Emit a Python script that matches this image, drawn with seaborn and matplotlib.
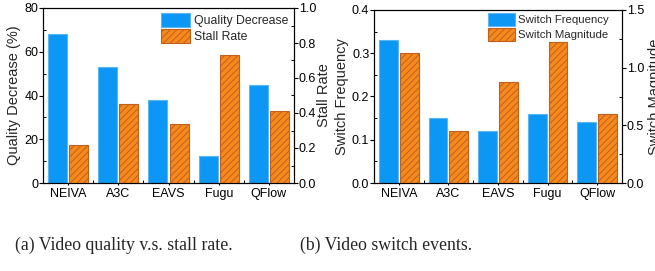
import matplotlib
matplotlib.use("Agg")
import matplotlib.pyplot as plt
from matplotlib.patches import Patch
from matplotlib.ticker import MultipleLocator, FixedLocator
import seaborn as sns
import pandas as pd

methods = ["NEIVA", "A3C", "EAVS", "Fugu", "QFlow"]
quality_decrease = [68, 53, 38, 12.3, 45]
stall_rate = [0.215, 0.45, 0.34, 0.73, 0.413]
switch_frequency = [0.33, 0.15, 0.12, 0.16, 0.14]
switch_magnitude = [1.13, 0.45, 0.872, 1.22, 0.6]

BLUE = "#0c97f4"
BLUE_EDGE = "#5ab6f5"
ORANGE = "#f5891c"
ORANGE_EDGE = "#c0601e"

sns.set_theme(style="ticks")
plt.rcParams["font.family"] = ["Liberation Sans", "DejaVu Sans"]
plt.rcParams["hatch.linewidth"] = 0.7
plt.rcParams["axes.linewidth"] = 0.8

fig = plt.figure(figsize=(6.55, 2.71), dpi=100)
axA = fig.add_axes([43/655, 1-183/271, 251/655, 175/271])
axB = fig.add_axes([374/655, 1-183/271, 248/655, 173/271])


def panel(ax, left_vals, right_vals, left_name, right_name, ylim_l, ylim_r,
          maj_l, maj_r, fmt_l, fmt_r):
    dfl = pd.DataFrame({"method": methods, "value": left_vals, "metric": left_name})
    dfr = pd.DataFrame({"method": methods, "value": right_vals, "metric": right_name})
    order = [left_name, right_name]
    sns.barplot(data=dfl, x="method", y="value", hue="metric", hue_order=order,
                order=methods, palette=[BLUE, ORANGE], width=0.84, gap=0.1,
                dodge=True, legend=False, ax=ax, edgecolor=BLUE_EDGE, linewidth=0.8,
                saturation=1)
    ax2 = ax.twinx()
    sns.barplot(data=dfr, x="method", y="value", hue="metric", hue_order=order,
                order=methods, palette=[BLUE, ORANGE], width=0.84, gap=0.1,
                dodge=True, legend=False, ax=ax2, edgecolor=ORANGE_EDGE,
                linewidth=0.8, hatch="/////", saturation=1)
    ax.set_xlim(-0.5, 4.5)
    ax.set_ylim(*ylim_l)
    ax2.set_ylim(*ylim_r)
    ax.yaxis.set_major_locator(MultipleLocator(maj_l))
    ax.yaxis.set_minor_locator(MultipleLocator(maj_l / 2))
    ax2.yaxis.set_major_locator(MultipleLocator(maj_r))
    ax2.yaxis.set_minor_locator(MultipleLocator(maj_r / 2))
    ax.yaxis.set_major_formatter(fmt_l)
    ax2.yaxis.set_major_formatter(fmt_r)
    ax.xaxis.set_minor_locator(FixedLocator([0.5, 1.5, 2.5, 3.5]))
    for a in (ax, ax2):
        a.set_xlabel("")
        for s in a.spines.values():
            s.set_visible(True)
            s.set_color("black")
            s.set_linewidth(0.8)
        a.tick_params(which="major", direction="out", length=2.8, width=0.8,
                      labelsize=9, pad=0.6, colors="black")
        a.tick_params(which="minor", direction="in", length=2, width=0.7, colors="black")
    ax.tick_params(axis="x", which="major", length=1.5, pad=2)
    return ax2


axA2 = panel(axA, quality_decrease, stall_rate, "Quality Decrease", "Stall Rate",
             (0, 80), (0, 1.0), 20, 0.2, "{x:.0f}", "{x:.1f}")
axA.set_ylabel("Quality Decrease (%)", fontsize=10.5, labelpad=2)
axA2.set_ylabel("Stall Rate", fontsize=10.5, labelpad=1)

axB2 = panel(axB, switch_frequency, switch_magnitude, "Switch Frequency", "Switch Magnitude",
             (0, 0.4), (0, 1.5), 0.1, 0.5, "{x:.1f}", "{x:.1f}")
axB.set_ylabel("Switch Frequency", fontsize=10.5, labelpad=2)
axB2.set_ylabel("Switch Magnitude", fontsize=10.5, labelpad=3)

legend_specs = [
    (axA2, ("Quality Decrease", "Stall Rate"), 8.8, 288),
    (axB2, ("Switch Frequency", "Switch Magnitude"), 8.2, 609),
]
for a2, names, fs, right_px in legend_specs:
    handles = [Patch(facecolor=BLUE, edgecolor=BLUE_EDGE, linewidth=0.8, label=names[0]),
               Patch(facecolor=ORANGE, edgecolor=ORANGE_EDGE, linewidth=0.8,
                     hatch="/////", label=names[1])]
    a2.legend(handles=handles, loc="upper right", frameon=False, fontsize=fs,
              handlelength=2.35, handleheight=1.4, handletextpad=0.3,
              labelspacing=0.12, borderaxespad=0, borderpad=0,
              bbox_to_anchor=(right_px/655, 1-13/271), bbox_transform=fig.transFigure)

fig.text(15/655, 1-245/271, "(a) Video quality v.s. stall rate.",
         family=["Liberation Serif", "DejaVu Serif"], fontsize=12.8, va="center", ha="left")
fig.text(300/655, 1-245/271, "(b) Video switch events.",
         family=["Liberation Serif", "DejaVu Serif"], fontsize=12.8, va="center", ha="left")

fig.savefig("out.png", dpi=100)
